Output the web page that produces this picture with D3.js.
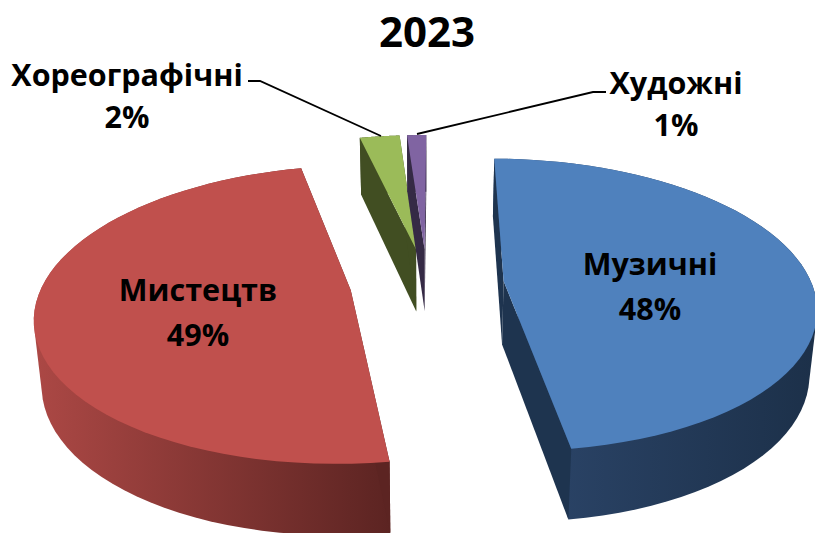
<!DOCTYPE html>
<html><head><meta charset="utf-8">
<script src="https://cdn.jsdelivr.net/npm/d3@7"></script>
<style>html,body{margin:0;background:#fff}svg{display:block}text{font-family:"Open Sans","Noto Sans",sans-serif;font-weight:700;fill:#000;text-anchor:middle}</style>
</head><body><svg id="c" width="815" height="533"></svg>
<script>
const chartTitle = "2023";
const categories = ["Музичні","Мистецтв","Хореографічні","Художні"];
const values = [47.6,48.7,2.49,1.2];
const labels = ["48%","49%","2%","1%"];
const topColors = ["#4f81bd","#c0504d","#9bbb59","#8064a2"];
const cutColors = ["#1e344f","#5c2422","#414e22","#352a45"];
const wallStops = [["#2d476c","#1c3049"],["#ac4845","#5c2422"],["#414e22","#414e22"],["#352a45","#352a45"]];
const labelPos = [[650,264],[198,290],[127,75],[676,83]];
const leaders = [null,null,[[248,81],[260,81],[381,136]],[[606,92],[593,92],[417,134]]];

const cx=427, cy=283.5, A=308, B=143, k=0.163, explode=0.25, lowScale=0.98;
const startRot=0.3*Math.PI/180;
const svg=d3.select("#c");
const pie=d3.pie().sort(null).startAngle(startRot).endAngle(startRot+2*Math.PI).value(d=>d);
const arcs=pie(values);

function proj(u,v){const w=1-k*v;return [A*u/w,B*v/w];}
function topPt(a,e,r){const [X,Y]=proj(e[0]+r*Math.sin(a),e[1]-r*Math.cos(a));return [cx+X,cy+Y];}
function lowPt(a,e,r){const [X,Y]=proj(e[0]+r*Math.sin(a),e[1]-r*Math.cos(a));return [cx+X*lowScale,cy+Y+63.5+0.045*Y];}
const line=d3.line();
const defs=svg.append("defs");
const order=[2,3,1,0];
order.forEach(i=>{
  const d=arcs[i], mid=(d.startAngle+d.endAngle)/2;
  const e=[explode*Math.sin(mid),-explode*Math.cos(mid)];
  const steps=d3.range(0,61).map(t=>d.startAngle+(d.endAngle-d.startAngle)*t/60);
  const outerT=steps.map(a=>topPt(a,e,1)), outerL=steps.map(a=>lowPt(a,e,1));
  const apexT=topPt(0,e,0), apexL=lowPt(0,e,0);
  const g=svg.append("g");
  const id="w"+i;
  const xs=outerT.map(p=>p[0]);
  const gr=defs.append("linearGradient").attr("id",id).attr("gradientUnits","userSpaceOnUse")
    .attr("x1",d3.min(xs)).attr("x2",d3.max(xs)).attr("y1",0).attr("y2",0);
  const st=wallStops[i];
  gr.append("stop").attr("offset",0).attr("stop-color",st[0]);
  gr.append("stop").attr("offset",1).attr("stop-color",st[1]);
  const hull=d3.polygonHull(outerT.concat(outerL));
  g.append("path").attr("d",line(hull)+"Z").attr("fill",`url(#${id})`);
  [0,60].forEach(j=>{
    g.append("path").attr("d",line([apexT,outerT[j],outerL[j],apexL])+"Z").attr("fill",cutColors[i]);
  });
  g.append("path").attr("d",line([apexT,...outerT])+"Z").attr("fill",topColors[i]);
});

svg.append("text").attr("x",cx).attr("y",47).attr("font-size",42).text(chartTitle);
categories.forEach((c,i)=>{
  const [x,y]=labelPos[i];
  const t=svg.append("text").attr("font-size",30.5);
  t.append("tspan").attr("x",x).attr("y",y+11).text(c);
  t.append("tspan").attr("x",x).attr("y",y+56-(i>1?3:0)).text(labels[i]);
  if(leaders[i]) svg.append("path").attr("d",line(leaders[i])).attr("fill","none").attr("stroke","#000").attr("stroke-width",1.8);
});
</script></body></html>
